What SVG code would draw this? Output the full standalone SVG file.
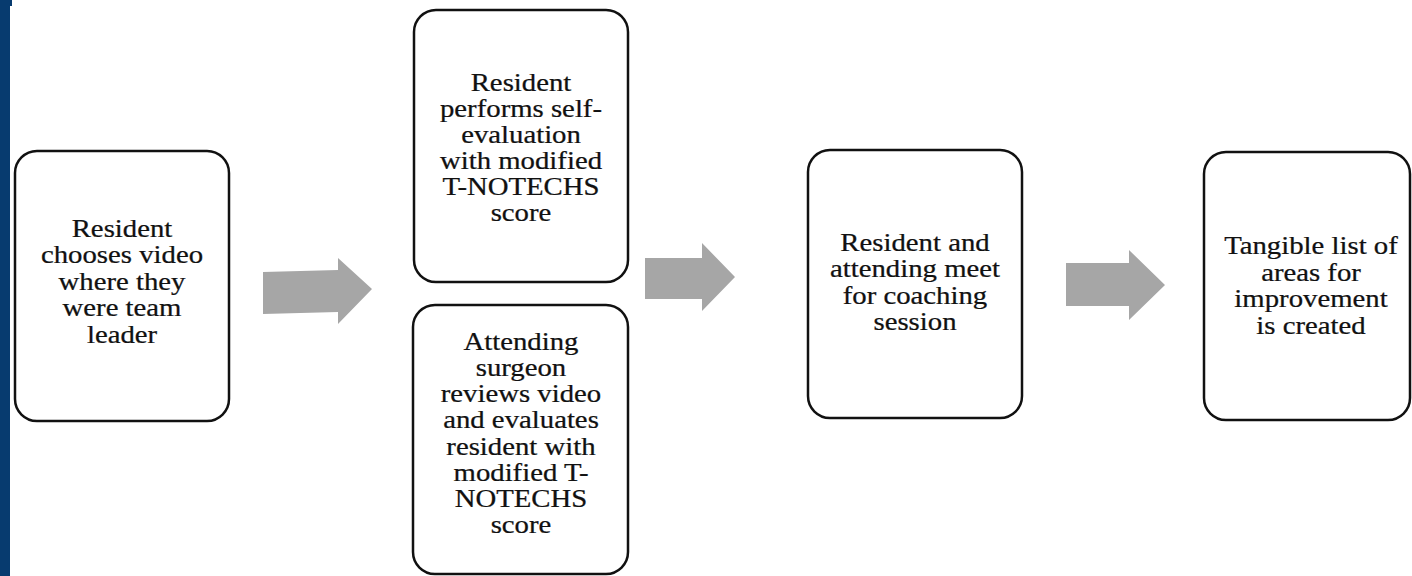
<svg xmlns="http://www.w3.org/2000/svg" width="1412" height="576" viewBox="0 0 1412 576">
<style>
.box{fill:#fff;stroke:#111;stroke-width:2.5}
.arr{fill:#a6a6a6;stroke:none}
text{font-family:'Liberation Serif','Times New Roman',Times,serif;font-size:25px;fill:#111;text-anchor:middle;stroke:#111;stroke-width:0.25}
</style>
<rect x="0" y="0" width="1412" height="576" fill="#fff"/>
<rect x="0" y="0" width="10" height="576" fill="#073b6f"/>
<rect x="0" y="0" width="12" height="6" fill="#073b6f"/>
<g id="connectors">
<polygon class="arr" points="263,272 338,270 338,258 372,289 338,324 338,312 263,314"/>
<polygon class="arr" points="645,258 702,258 702,243 735,277 702,311 702,299 645,299"/>
<polygon class="arr" points="1066,263 1129,263 1129,250 1165,285 1129,320 1129,306 1066,306"/>
</g>
<g id="n1">
<rect class="box" x="15" y="151" width="214" height="270" rx="22"/>
<text font-family="Liberation Serif, serif" transform="matrix(1.15 0 0 1 122 0)"><tspan x="0" y="237">Resident</tspan><tspan x="0" y="263.5">chooses video</tspan><tspan x="0" y="290">where they</tspan><tspan x="0" y="316.5">were team</tspan><tspan x="0" y="343">leader</tspan></text>
</g>
<g id="n2">
<rect class="box" x="414" y="10" width="214" height="272" rx="22"/>
<text font-family="Liberation Serif, serif" transform="matrix(1.15 0 0 1 521 0)"><tspan x="0" y="91">Resident</tspan><tspan x="0" y="117">performs self-</tspan><tspan x="0" y="143">evaluation</tspan><tspan x="0" y="169">with modified</tspan><tspan x="0" y="195">T-NOTECHS</tspan><tspan x="0" y="221">score</tspan></text>
</g>
<g id="n3">
<rect class="box" x="413" y="305" width="215" height="269" rx="22"/>
<text font-family="Liberation Serif, serif" transform="matrix(1.15 0 0 1 521 0)"><tspan x="0" y="350">Attending</tspan><tspan x="0" y="376">surgeon</tspan><tspan x="0" y="402">reviews video</tspan><tspan x="0" y="428.5">and evaluates</tspan><tspan x="0" y="455">resident with</tspan><tspan x="0" y="481.5">modified T-</tspan><tspan x="0" y="507.5">NOTECHS</tspan><tspan x="0" y="533.5">score</tspan></text>
</g>
<g id="n4">
<rect class="box" x="808" y="150" width="214" height="268" rx="22"/>
<text font-family="Liberation Serif, serif" transform="matrix(1.15 0 0 1 915 0)"><tspan x="0" y="251">Resident and</tspan><tspan x="0" y="277.5">attending meet</tspan><tspan x="0" y="304">for coaching</tspan><tspan x="0" y="330.5">session</tspan></text>
</g>
<g id="n5">
<rect class="box" x="1204" y="152" width="206" height="268" rx="22"/>
<text font-family="Liberation Serif, serif" transform="matrix(1.15 0 0 1 1311 0)"><tspan x="0" y="254">Tangible list of</tspan><tspan x="0" y="281">areas for</tspan><tspan x="0" y="307.5">improvement</tspan><tspan x="0" y="334">is created</tspan></text>
</g>
</svg>
